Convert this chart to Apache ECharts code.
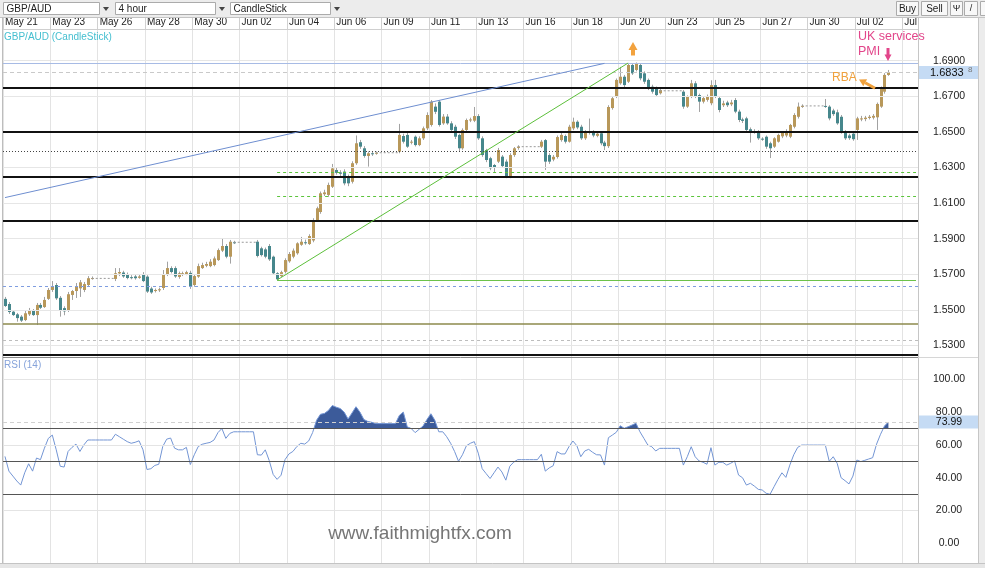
<!DOCTYPE html>
<html><head><meta charset="utf-8">
<script src="https://cdn.jsdelivr.net/npm/echarts@6/dist/echarts.min.js"></script>
<style>html,body{margin:0;padding:0;background:#fff;overflow:hidden}#c{width:985px;height:568px}</style>
</head><body><div id="c"></div>
<script>
// ---------------- DATA ----------------
const dateLabels = ['May 21','May 23','May 26','May 28','May 30','Jun 02','Jun 04','Jun 06','Jun 09','Jun 11','Jun 13','Jun 16','Jun 18','Jun 20','Jun 23','Jun 25','Jun 27','Jun 30','Jul 02','Jul'];
const SLOT_COUNT = 232;      // 4-hour slots on the time axis (weekend slots are empty)
const SLOTS_PER_LABEL = 12;

const opens = [
1.5562,1.5533,1.5490,1.5475,1.5462,1.5443,1.5475,1.5498,1.5471,1.5528,1.5516,1.5562,1.5612,1.5640,1.5568,1.5510,1.5499,1.5584,1.5606,1.5621,1.5612,1.5640,1.5676,
null,null,null,null,null,
1.5674,1.5705,1.5710,1.5700,1.5684,1.5688,1.5680,1.5700,1.5687,1.5620,1.5606,1.5610,1.5623,1.5698,1.5735,1.5735,1.5685,1.5700,1.5702,1.5708,1.5640,1.5687,1.5735,1.5748,1.5746,1.5752,1.5780,1.5833,1.5859,1.5799,1.5880,
null,null,null,null,null,
1.5883,1.5846,1.5840,1.5859,1.5799,1.5706,1.5690,1.5714,1.5773,1.5799,1.5818,1.5866,1.5880,1.5870,1.5890,1.6005,1.6050,1.6150,1.6146,1.6192,1.6286,1.6272,1.6277,1.6248,1.6220,1.6324,1.6442,1.6408,1.6365,1.6380,1.6380,
null,null,null,null,null,
1.6389,1.6477,1.6483,1.6440,1.6473,1.6426,1.6464,1.6520,1.6539,1.6642,1.6670,1.6548,1.6586,1.6548,1.6529,1.6483,1.6408,1.6511,1.6565,1.6563,1.6589,1.6464,1.6398,1.6352,1.6314,1.6333,1.6361,1.6333,1.6248,1.6370,1.6410,
null,null,null,null,null,
1.6417,1.6454,1.6370,1.6345,1.6359,1.6454,1.6477,1.6445,1.6520,1.6557,1.6529,1.6464,1.6495,1.6500,1.6478,1.6492,1.6440,1.6420,1.6634,1.6698,1.6773,1.6810,1.6782,1.6876,1.6848,1.6876,1.6829,1.6792,1.6754,1.6745,1.6717,
null,null,null,null,null,
1.6726,1.6642,1.6698,1.6773,1.6707,1.6670,1.6680,1.6661,1.6763,1.6690,1.6650,1.6665,1.6655,1.6679,1.6614,1.6570,1.6576,1.6515,1.6500,1.6501,1.6462,1.6473,1.6436,1.6417,1.6445,1.6475,1.6480,1.6473,1.6529,1.6585,1.6645,
null,null,null,null,null,
1.6646,1.6642,1.6620,1.6610,1.6585,1.6501,1.6480,1.6490,1.6511,1.6570,1.6572,1.6578,1.6580,1.6582,1.6642,1.6726,1.6820
];
const closes = [
1.5522,1.5488,1.5471,1.5454,1.5440,1.5481,1.5499,1.5471,1.5528,1.5512,1.5556,1.5612,1.5630,1.5565,1.5499,1.5492,1.5588,1.5606,1.5630,1.5655,1.5645,1.5678,1.5679,
null,null,null,null,null,
1.5706,1.5713,1.5688,1.5679,1.5680,1.5678,1.5688,1.5662,1.5603,1.5598,1.5612,1.5616,1.5698,1.5735,1.5713,1.5688,1.5706,1.5706,1.5712,1.5630,1.5690,1.5746,1.5752,1.5758,1.5771,1.5789,1.5836,1.5859,1.5799,1.5883,1.5878,
null,null,null,null,null,
1.5803,1.5808,1.5799,1.5784,1.5706,1.5672,1.5712,1.5780,1.5814,1.5833,1.5874,1.5883,1.5876,1.5915,1.6005,1.6071,1.6155,1.6160,1.6202,1.6295,1.6270,1.6265,1.6211,1.6211,1.6324,1.6436,1.6417,1.6365,1.6380,1.6376,1.6383,
null,null,null,null,null,
1.6483,1.6445,1.6417,1.6445,1.6426,1.6464,1.6520,1.6595,1.6670,1.6613,1.6539,1.6586,1.6548,1.6511,1.6473,1.6408,1.6511,1.6567,1.6570,1.6589,1.6464,1.6370,1.6342,1.6296,1.6300,1.6398,1.6308,1.6248,1.6370,1.6408,1.6417,
null,null,null,null,null,
1.6445,1.6333,1.6333,1.6360,1.6471,1.6483,1.6445,1.6529,1.6557,1.6525,1.6464,1.6500,1.6500,1.6480,1.6490,1.6436,1.6420,1.6640,1.6689,1.6792,1.6810,1.6763,1.6876,1.6829,1.6885,1.6801,1.6782,1.6745,1.6726,1.6707,1.6735,
null,null,null,null,null,
1.6642,1.6698,1.6773,1.6698,1.6670,1.6690,1.6700,1.6763,1.6698,1.6623,1.6660,1.6650,1.6665,1.6614,1.6567,1.6562,1.6511,1.6500,1.6505,1.6464,1.6458,1.6417,1.6408,1.6464,1.6483,1.6495,1.6500,1.6539,1.6595,1.6642,1.6646,
null,null,null,null,null,
1.6642,1.6576,1.6600,1.6548,1.6501,1.6464,1.6465,1.6459,1.6576,1.6576,1.6580,1.6585,1.6590,1.6657,1.6745,1.6820,1.6834
];
const lows = [
1.5516,1.5477,1.5466,1.5434,1.5432,1.5437,1.5466,1.5466,1.5415,1.5505,1.5511,1.5556,1.5601,1.5556,1.5462,1.5470,1.5488,1.5556,1.5567,1.5573,1.5600,1.5629,1.5670,
null,null,null,null,null,
1.5662,1.5690,1.5680,1.5672,1.5672,1.5670,1.5675,1.5656,1.5595,1.5590,1.5598,1.5601,1.5612,1.5690,1.5705,1.5680,1.5675,1.5690,1.5695,1.5618,1.5630,1.5680,1.5730,1.5740,1.5740,1.5745,1.5775,1.5825,1.5790,1.5760,1.5870,
null,null,null,null,null,
1.5795,1.5800,1.5790,1.5775,1.5700,1.5668,1.5685,1.5705,1.5765,1.5790,1.5810,1.5860,1.5866,1.5865,1.5880,1.5995,1.6040,1.6140,1.6135,1.6185,1.6260,1.6250,1.6200,1.6195,1.6210,1.6315,1.6405,1.6355,1.6305,1.6365,1.6372,
null,null,null,null,null,
1.6380,1.6435,1.6410,1.6430,1.6418,1.6420,1.6455,1.6510,1.6530,1.6600,1.6530,1.6540,1.6540,1.6500,1.6460,1.6392,1.6400,1.6505,1.6555,1.6555,1.6455,1.6360,1.6330,1.6285,1.6270,1.6325,1.6300,1.6240,1.6240,1.6360,1.6400,
null,null,null,null,null,
1.6410,1.6286,1.6320,1.6335,1.6350,1.6445,1.6435,1.6440,1.6510,1.6515,1.6455,1.6455,1.6485,1.6470,1.6470,1.6425,1.6398,1.6410,1.6625,1.6690,1.6765,1.6750,1.6775,1.6820,1.6840,1.6790,1.6770,1.6735,1.6715,1.6700,1.6710,
null,null,null,null,null,
1.6630,1.6635,1.6690,1.6690,1.6612,1.6660,1.6670,1.6650,1.6690,1.6610,1.6640,1.6640,1.6645,1.6605,1.6555,1.6550,1.6500,1.6440,1.6490,1.6455,1.6450,1.6405,1.6353,1.6410,1.6440,1.6465,1.6470,1.6465,1.6520,1.6575,1.6635,
null,null,null,null,null,
1.6635,1.6565,1.6590,1.6540,1.6490,1.6455,1.6455,1.6450,1.6455,1.6560,1.6560,1.6570,1.6570,1.6511,1.6635,1.6715,1.6815
];
const highs = [
1.5573,1.5544,1.5499,1.5483,1.5471,1.5499,1.5511,1.5505,1.5539,1.5539,1.5573,1.5623,1.5662,1.5651,1.5578,1.5520,1.5601,1.5612,1.5651,1.5668,1.5657,1.5690,1.5688,
null,null,null,null,null,
1.5735,1.5735,1.5720,1.5710,1.5695,1.5697,1.5697,1.5712,1.5695,1.5630,1.5620,1.5625,1.5724,1.5771,1.5745,1.5745,1.5715,1.5715,1.5720,1.5720,1.5700,1.5760,1.5765,1.5770,1.5785,1.5800,1.5845,1.5904,1.5870,1.5893,1.5888,
null,null,null,null,null,
1.5893,1.5855,1.5850,1.5870,1.5805,1.5712,1.5720,1.5790,1.5825,1.5845,1.5880,1.5910,1.5895,1.5925,1.6015,1.6080,1.6165,1.6175,1.6215,1.6320,1.6300,1.6285,1.6290,1.6260,1.6335,1.6480,1.6455,1.6420,1.6390,1.6390,1.6390,
null,null,null,null,null,
1.6545,1.6490,1.6495,1.6455,1.6480,1.6475,1.6530,1.6610,1.6679,1.6660,1.6679,1.6600,1.6600,1.6560,1.6540,1.6490,1.6520,1.6575,1.6580,1.6640,1.6600,1.6475,1.6405,1.6360,1.6320,1.6410,1.6370,1.6345,1.6380,1.6415,1.6425,
null,null,null,null,null,
1.6455,1.6460,1.6380,1.6370,1.6480,1.6495,1.6485,1.6540,1.6580,1.6565,1.6540,1.6510,1.6575,1.6510,1.6500,1.6500,1.6450,1.6650,1.6700,1.6800,1.6865,1.6820,1.6887,1.6887,1.6890,1.6885,1.6840,1.6800,1.6765,1.6755,1.6745,
null,null,null,null,null,
1.6735,1.6705,1.6792,1.6785,1.6715,1.6700,1.6710,1.6790,1.6792,1.6700,1.6675,1.6675,1.6680,1.6690,1.6625,1.6580,1.6585,1.6525,1.6515,1.6510,1.6470,1.6480,1.6445,1.6470,1.6490,1.6505,1.6515,1.6545,1.6605,1.6665,1.6655,
null,null,null,null,null,
1.6685,1.6650,1.6630,1.6625,1.6595,1.6510,1.6490,1.6495,1.6585,1.6590,1.6590,1.6595,1.6600,1.6665,1.6755,1.6830,1.6848
];
const rsi = [
53,44,41,38,35.5,43,48.5,44,52,51,58,64,66,57,47,46.5,56,58.5,60.5,56,60,63,63,
63,63,63,63,63,
66.5,65,63.5,62,61,61.6,62.5,57,45,45.5,47.5,48.2,59,63.5,64.2,58,57,57,58.5,48,54,59,60.4,61,61.5,63,67.5,70,64,67,68,
68,68,68,68,68,
54,53.8,57,50.5,42,39,41.5,51,54.5,56,59,61,60.5,62.4,67.5,75,78.7,79.2,81,84,83,82.2,80,75.8,79.5,83.3,80,75.5,74.3,73.8,73,
73,73,73,73,73,
78,80,71,70,67.5,69.5,71.5,75.5,79,75,68,68,65,61,56,50,54,59.5,61,62,55,45.5,42.5,39.5,43,46.5,43.5,38.5,47,49.5,51,
51,51,51,51,51,
54.3,44,46,47.3,55.9,54.5,54.5,58.9,62.4,59.5,52.8,56.3,57.3,55.5,54,53.9,47.7,64.4,66,67.7,71.7,70.1,71.1,72.1,73.2,68,64,59.9,58.9,56.3,57.9,
57.9,57.9,57.9,57.9,57.9,
47.7,52.8,58.9,52.8,50.2,49.4,48.2,58.3,47.7,49.4,49.4,47.7,48.8,50.2,41.6,40,35.5,36.6,34.9,32.9,32.5,30.5,29.9,34.5,39,43,40.2,47.7,54,58.5,59.9,
59.9,59.9,59.9,59.9,59.9,
59.9,50,52.8,48.8,40,38.2,36.2,41,50.8,49.8,50.6,51.4,52.2,60.5,66.5,71.5,73.99
];
// weekend gaps: [last slot before, first slot after, price level of the dashed join]
const gapSegments = [[22,28,1.5677],[58,64,1.5880],[94,100,1.6383],[130,136,1.6417],[166,172,1.6731],[202,208,1.6646]];

const priceTicks = [1.53,1.55,1.57,1.59,1.61,1.63,1.65,1.67,1.69];
const rsiGridLevels = [100,60,20];
const rsiLevels = [70,50,30];
const lastPrice = 1.68338;
const lastRsi = 73.99;

const topBlueLevel = 1.6885;
const blackLevels = [1.6750,1.6500,1.6250,1.6000,1.5250];
const dottedLevel = 1.6393;
const greenDashedLevels = [1.6274,1.6136];
const greenSolidLevel = 1.5668;
const blueDashedLevel = 1.5633;
const oliveLevel = 1.5425;
const grayDashedLevel = 1.5331;
const levelStartSlot = 69;
const blueTrend = [[0,1.6131],[152,1.6885]];
const greenTrend = [[69,1.5668],[158,1.6887]];

// ---------------- CHART ----------------
const FONT = "'Liberation Sans', Arial, sans-serif";
const GOLD = '#b8985a', TEAL = '#46878c', WICK = '#a2a2a2';
const cats = Array.from({length: SLOT_COUNT}, (_, i) => String(i));
const onLabel = i => i % SLOTS_PER_LABEL === 0;

const candleData = [];
opens.forEach((o, i) => { if (o != null) candleData.push([i, o, closes[i], lows[i], highs[i]]); });
const gapData = cats.map(() => null);
gapSegments.forEach(([a, b, v]) => { for (let i = a; i <= b; i++) gapData[i] = v; });

const lastSlot = String(SLOT_COUNT - 1);
function hl(v, color, width, type) { return {yAxis: v, lineStyle: {color, width, type}}; }
function seg(p1, p2, color, width, type) { return [{coord: [String(p1[0]), p1[1]], lineStyle: {color, width, type}}, {coord: [String(p2[0]), p2[1]]}]; }
function ml(data) { return {silent: true, symbol: 'none', precision: 6, label: {show: false}, animation: false, data}; }

const levelLines = [
  hl(topBlueLevel, '#a7bbe5', 1, 'solid'),
  hl(lastPrice, '#c9c9c9', 1, [4, 3]),
  hl(dottedLevel, '#444', 1, [1, 2]),
  hl(blueDashedLevel, '#7f9de0', 1, [3, 3]),
  hl(oliveLevel, '#8d8a4c', 1.5, 'solid'),
  hl(grayDashedLevel, '#bdbdbd', 1, [3, 3]),
  ...blackLevels.map(v => hl(v, '#111', 2, 'solid')),
  ...greenDashedLevels.map(v => seg([levelStartSlot, v], [lastSlot, v], '#5cc43c', 1, [3, 3])),
  seg([levelStartSlot, greenSolidLevel], [lastSlot, greenSolidLevel], '#6cc249', 1, 'solid'),
  seg(blueTrend[0], blueTrend[1], '#6e8ed0', 1, 'solid'),
  seg(greenTrend[0], greenTrend[1], '#5cbf3a', 1, 'solid')
];

const axisLabelBase = {color: '#222', fontSize: 10.5, fontFamily: FONT, align: 'center', margin: 31, showMinLabel: false, showMaxLabel: false};

const option = {
  animation: false,
  grid: [
    {left: 3, top: 30, width: 915, height: 351.1, containLabel: false, outerBoundsMode: 'none'},
    {left: 3, top: 358, width: 915, height: 218.1, containLabel: false, outerBoundsMode: 'none'}
  ],
  xAxis: [
    {type: 'category', gridIndex: 0, data: cats, position: 'top', boundaryGap: true,
     axisLine: {show: false},
     axisTick: {show: true, interval: onLabel, length: 12, lineStyle: {color: '#d0d0d0'}},
     axisLabel: {show: true, interval: onLabel, formatter: (v, i) => dateLabels[i / SLOTS_PER_LABEL] || '', align: 'left', margin: 3, color: '#222', fontSize: 10, fontFamily: FONT},
     splitLine: {show: true, interval: onLabel, lineStyle: {color: '#e3e3e3', width: 1}}},
    {type: 'category', gridIndex: 1, data: cats, boundaryGap: true,
     axisLine: {show: false}, axisTick: {show: false}, axisLabel: {show: false},
     splitLine: {show: true, interval: onLabel, lineStyle: {color: '#e3e3e3', width: 1}}}
  ],
  yAxis: [
    {type: 'value', gridIndex: 0, position: 'right', min: 1.51, max: 1.70725, interval: 0.02,
     axisLine: {show: false}, axisTick: {show: false}, splitLine: {show: false},
     axisLabel: Object.assign({}, axisLabelBase, {formatter: v => v.toFixed(4)})},
    {type: 'value', gridIndex: 1, position: 'right', min: -20, max: 113, interval: 20,
     axisLine: {show: false}, axisTick: {show: false}, splitLine: {show: false},
     axisLabel: Object.assign({}, axisLabelBase, {formatter: v => v.toFixed(2)})}
  ],
  visualMap: [{
    show: false, type: 'piecewise', seriesIndex: 4, dimension: 1,
    pieces: [{gt: 70, color: '#3c5b9a'}, {gte: 30, lte: 70, color: 'rgba(60,91,154,0)'}, {lt: 30, color: '#3c5b9a'}]
  }],
  series: [
    {name: 'priceGrid', type: 'line', xAxisIndex: 0, yAxisIndex: 0, data: [], z: 1, silent: true,
     markLine: ml(priceTicks.map(v => hl(v, '#e6e6e6', 1, 'solid')))},
    {name: 'candles', type: 'custom', xAxisIndex: 0, yAxisIndex: 0, data: candleData, z: 3,
     encode: {x: 0, y: [1, 2, 3, 4]},
     renderItem: (params, api) => {
       const i = api.value(0), o = api.value(1), c = api.value(2), l = api.value(3), h = api.value(4);
       const pO = api.coord([i, o]), pC = api.coord([i, c]), pL = api.coord([i, l]), pH = api.coord([i, h]);
       const cx = Math.round(pO[0]);
       const top = Math.min(pO[1], pC[1]), bot = Math.max(pO[1], pC[1]);
       return {type: 'group', children: [
         {type: 'line', shape: {x1: cx + 0.5, y1: pH[1], x2: cx + 0.5, y2: pL[1]}, style: {stroke: WICK, lineWidth: 1}},
         {type: 'rect', shape: {x: cx - 1, y: top, width: 3, height: Math.max(bot - top, 1)}, style: {fill: c >= o ? GOLD : TEAL}}
       ]};
     }},
    {name: 'levels', type: 'line', xAxisIndex: 0, yAxisIndex: 0, data: gapData, z: 4, symbol: 'none',
     connectNulls: false, lineStyle: {color: '#9a9a9a', width: 1, type: [2, 2]}, silent: true,
     markLine: ml(levelLines)},
    {name: 'rsiGrid', type: 'line', xAxisIndex: 1, yAxisIndex: 1, data: [], z: 1, silent: true,
     markLine: ml(rsiGridLevels.map(v => hl(v, '#e4e4e4', 1, 'solid')))},
    {name: 'rsiFill', type: 'line', xAxisIndex: 1, yAxisIndex: 1, data: rsi, z: 3, symbol: 'none', silent: true,
     lineStyle: {width: 0}, areaStyle: {origin: 70, opacity: 1}},
    {name: 'RSI', type: 'line', xAxisIndex: 1, yAxisIndex: 1, data: rsi, z: 4, symbol: 'none', silent: true,
     lineStyle: {color: '#7395d4', width: 1},
     markLine: ml([...rsiLevels.map(v => hl(v, '#555', 1, 'solid')), hl(lastRsi, '#d0d0d0', 1, [4, 3])])}
  ]
};

// ---------- frame / annotations (graphic) ----------
let gid = 0;
const G = [];
function gRect(x, y, w, h, fill, stroke, z) { G.push({id: 'g' + (gid++), type: 'rect', shape: {x, y, width: w, height: h}, style: {fill, stroke: stroke || null, lineWidth: stroke ? 1 : 0}, z: z == null ? 50 : z, silent: true}); }
function gLine(x1, y1, x2, y2, stroke, w, z) { G.push({id: 'g' + (gid++), type: 'line', shape: {x1, y1, x2, y2}, style: {stroke, lineWidth: w || 1}, z: z == null ? 50 : z, silent: true}); }
function gText(x, y, text, size, color, align, extra) { G.push({id: 'g' + (gid++), type: 'text', x, y, style: Object.assign({text, fontSize: size, fontFamily: FONT, fill: color, align: align || 'left', verticalAlign: 'middle'}, extra || {}), z: 60, silent: true}); }
function gPoly(points, fill, z) { G.push({id: 'g' + (gid++), type: 'polygon', shape: {points}, style: {fill}, z: z || 60, silent: true}); }

// toolbar
gRect(0, 0, 985, 17, '#ececec', null, 40);
gLine(0, 17.5, 985, 17.5, '#c4c4c4', 1, 41);
[[3.5, 96, 'GBP/AUD', 106], [115.5, 100, '4 hour', 222], [230.5, 100, 'CandleStick', 337]].forEach(([x, w, t, ax]) => {
  gRect(x, 2.5, w, 12, '#fff', '#ababab', 42);
  gText(x + 3, 9, t, 10, '#222');
  gPoly([[ax - 3, 7], [ax + 3, 7], [ax, 11]], '#444');
});
[[896.5, 22, 'Buy'], [921.5, 26, 'Sell'], [950.5, 12, 'Ψ'], [964.5, 13, '/']].forEach(([x, w, t]) => {
  gRect(x, 1.5, w, 14, '#f8f8f8', '#ababab', 42);
  gText(x + w / 2, 9, t, t.length > 1 ? 10 : 9, '#222', 'center');
});
gRect(980.5, 1.5, 5, 14, '#f8f8f8', '#ababab', 42);
// date row / frame
gLine(3, 29.5, 918, 29.5, '#cfcfcf', 1, 41);
gLine(2.5, 17, 2.5, 563, '#bdbdbd', 1, 55);
gLine(918.5, 17, 918.5, 563, '#c6c6c6', 1, 55);
gLine(978.5, 17, 978.5, 563, '#c6c6c6', 1, 55);
gRect(979, 18, 6, 545, '#ececec', null, 54);
gLine(918, 357.5, 978, 357.5, '#d6d6d6', 1, 55);
gLine(3, 357.5, 918, 357.5, '#888', 1, 55);
gRect(0, 563, 985, 5, '#e6e6e6', null, 56);
gLine(0, 563.5, 985, 563.5, '#c4c4c4', 1, 57);
// panel titles + watermark
gText(4, 37, 'GBP/AUD (CandleStick)', 10, '#45bfd0');
gText(4, 365, 'RSI (14)', 10, '#86a3da');
gText(420, 534, 'www.faithmightfx.com', 19, '#767676', 'center');
// annotations
gPoly([[633, 42], [637.5, 50], [628.5, 50]], '#f2a23e');
gRect(631, 49, 4, 6.5, '#f2a23e', null, 60);
gText(858, 37, 'UK services', 12.5, '#e2458a');
gText(858, 52, 'PMI', 12.5, '#e2458a');
gRect(886.5, 48, 3, 7, '#e2458a', null, 60);
gPoly([[884.5, 54.5], [891.5, 54.5], [888, 61]], '#e2458a');
gText(832, 78, 'RBA', 12, '#f0a13c');
gLine(875, 88.3, 865.2, 82.8, '#f0a13c', 3, 60);
gPoly([[859, 79.5], [867.1, 79.3], [863.3, 86.3]], '#f0a13c');

option.graphic = {elements: G};

const chart = echarts.init(document.getElementById('c'));
chart.setOption(option);

// last-value tags on the axes, positioned through the axes' own scales
const yP = chart.convertToPixel({yAxisIndex: 0}, lastPrice);
const yR = chart.convertToPixel({yAxisIndex: 1}, lastRsi);
const T = [];
T.push({id: 'tagP', type: 'rect', shape: {x: 919, y: yP - 6.5, width: 59, height: 13}, style: {fill: '#c5dbf4'}, z: 58, silent: true});
T.push({id: 'tagPt', type: 'text', x: 930, y: yP + 0.5, style: {text: lastPrice.toFixed(5).slice(0, 6), fontSize: 11, fontFamily: FONT, fill: '#111', align: 'left', verticalAlign: 'middle'}, z: 60, silent: true});
T.push({id: 'tagPs', type: 'text', x: 968, y: yP - 2.5, style: {text: lastPrice.toFixed(5).slice(6), fontSize: 8, fontFamily: FONT, fill: '#777', align: 'left', verticalAlign: 'middle'}, z: 60, silent: true});
T.push({id: 'tagR', type: 'rect', shape: {x: 919, y: yR - 6.5, width: 59, height: 13}, style: {fill: '#c5dbf4'}, z: 58, silent: true});
T.push({id: 'tagRt', type: 'text', x: 949, y: yR + 0.5, style: {text: lastRsi.toFixed(2), fontSize: 10.5, fontFamily: FONT, fill: '#111', align: 'center', verticalAlign: 'middle'}, z: 60, silent: true});
chart.setOption({graphic: {elements: G.concat(T)}});
</script>
</body></html>
